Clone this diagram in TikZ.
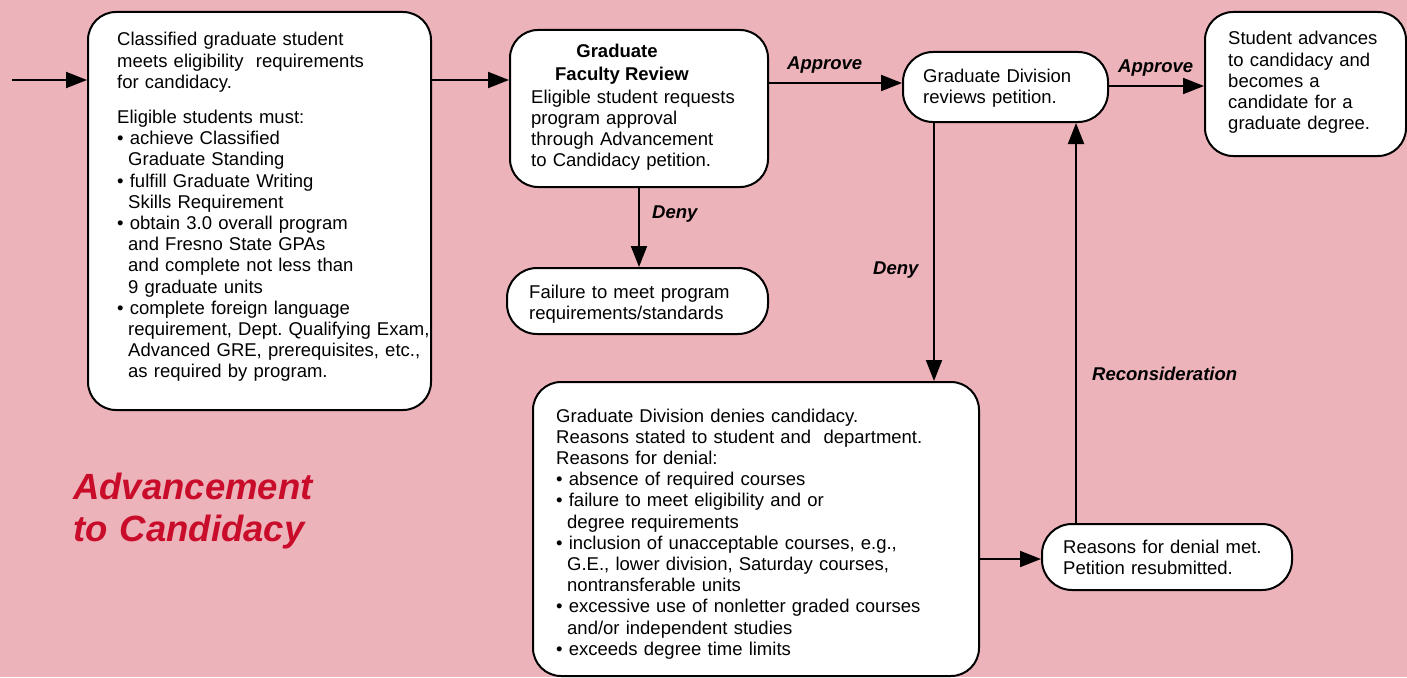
\documentclass[tikz,border=0pt]{standalone}
\usepackage{fontspec}
\setmainfont{Liberation Sans}
\usetikzlibrary{arrows.meta}
\definecolor{bgpink}{RGB}{237,179,186}
\definecolor{titlered}{RGB}{200,12,42}
\tikzset{
  box/.style={draw=black, line width=2pt, fill=white, rounded corners=28pt, inner sep=0pt},
  txt/.style={anchor=base west, inner sep=0pt, align=left, text width=460pt,
              font=\fontsize{18.5}{21.2}\selectfont},
  lbl/.style={anchor=base west, inner sep=0pt, font=\fontsize{18.5}{21.2}\selectfont\bfseries\itshape},
  head/.style={anchor=base, inner sep=0pt, font=\fontsize{18.5}{21.2}\selectfont\bfseries},
  conn/.style={line width=2pt, -{Triangle[length=21pt,width=16pt]}},
}
\newcommand{\ind}{\hspace*{11pt}}
\frenchspacing
\begin{document}
\begin{tikzpicture}[x=1pt,y=-1pt]
\fill[bgpink] (0,0) rectangle (1407,677);
\useasboundingbox (0,0) rectangle (1407,677);

% boxes
\node[box, minimum width=343pt, minimum height=398pt] (b1) at (259.5,211) {};
\node[box, minimum width=258pt, minimum height=157pt] (b2) at (639,108.5) {};
\node[box, minimum width=261pt, minimum height=66pt, rounded corners=30pt] (b3) at (637.5,301) {};
\node[box, minimum width=205pt, minimum height=70pt, rounded corners=30pt] (b4) at (1005.5,87) {};
\node[box, minimum width=201pt, minimum height=144pt] (b5) at (1305.5,84) {};
\node[box, minimum width=446pt, minimum height=294pt] (b6) at (756,529) {};
\node[box, minimum width=250pt, minimum height=66pt, rounded corners=30pt] (b7) at (1167,557) {};

% texts
\node[txt] (t1) at (117,46) {\frenchspacing Classified graduate student\\
meets eligibility\ \ requirements\\
for candidacy.\\[13.8pt]
Eligible students must:\\
• achieve Classified\\
\ind Graduate Standing\\
• fulfill Graduate Writing\\
\ind Skills Requirement\\
• obtain 3.0 overall program\\
\ind and Fresno State GPAs\\
\ind and complete not less than\\
\ind 9 graduate units\\
• complete foreign language\\
\ind requirement, Dept. Qualifying Exam,\\
\ind Advanced GRE, prerequisites, etc.,\\
\ind as required by program.};

\node[head] (h2a) at (617,58) {Graduate};
\node[head] (h2b) at (622,80) {Faculty Review};
\node[txt] (t2) at (531,103) {Eligible student requests\\
program approval\\
through Advancement\\
to Candidacy petition.};

\node[txt] (t3) at (529,298) {Failure to meet program\\
requirements/standards};

\node[txt] (t4) at (923,82) {Graduate Division\\
reviews petition.};

\node[txt] (t5) at (1228,45) {Student advances\\
to candidacy and\\
becomes a\\
candidate for a\\
graduate degree.};

\node[txt] (t6) at (556,422) {\frenchspacing Graduate Division denies candidacy.\\
Reasons stated to student and\ \ department.\\
Reasons for denial:\\
• absence of required courses\\
• failure to meet eligibility and or\\
\ind degree requirements\\
• inclusion of unacceptable courses, e.g.,\\
\ind G.E., lower division, Saturday courses,\\
\ind nontransferable units\\
• excessive use of nonletter graded courses\\
\ind and/or independent studies\\
• exceeds degree time limits};

\node[txt] (t7) at (1063,553) {Reasons for denial met.\\
Petition resubmitted.};

% labels
\node[lbl] (l1) at (787,70) {Approve};
\node[lbl] (l2) at (652,218) {Deny};
\node[lbl] (l3) at (1118,72) {Approve};
\node[lbl] (l4) at (873,274) {Deny};
\node[lbl] (l5) at (1092,380) {Reconsideration};

% title
\node[anchor=base west, inner sep=0pt, align=left, text width=400pt, text=titlered,
      font=\fontsize{36.5}{42}\selectfont\bfseries\itshape] (title) at (73,499)
  {Advancement\\to Candidacy};

% connectors
\coordinate (start) at (12,80);
\coordinate (y80) at (0,80);
\coordinate (y83) at (0,83);
\coordinate (y86) at (0,86);
\coordinate (y559) at (0,559);
\coordinate (x934) at (934,0);
\coordinate (x1076) at (1076,0);

\draw[conn] (start) -- (start -| b1.west);
\draw[conn] (b1.east |- y80) -- (b2.west |- y80);
\draw[conn] (b2.east |- y83) -- (b4.west |- y83);
\draw[conn] (b2.south) -- (b3.north -| b2.south);
\draw[conn] (b4.east |- y86) -- (b5.west |- y86);
\draw[conn] (b4.south -| x934) -- (b6.north -| x934);
\draw[conn] (b6.east |- y559) -- (b7.west |- y559);
\draw[conn] (b7.north -| x1076) -- (b4.south -| x1076);
\end{tikzpicture}
\end{document}
